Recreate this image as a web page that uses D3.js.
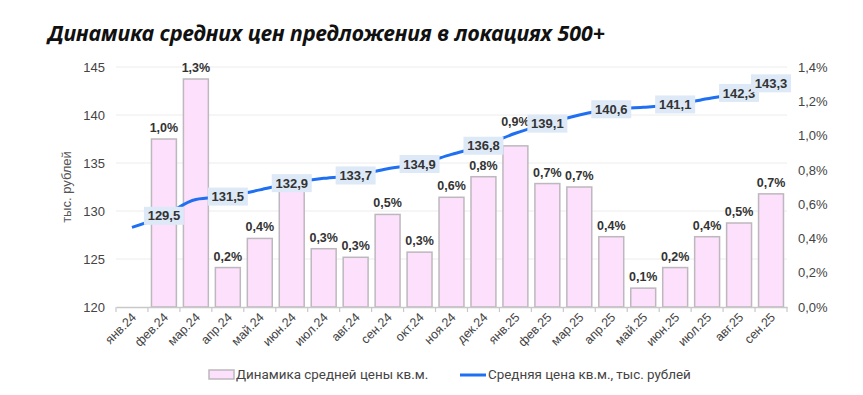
<!DOCTYPE html>
<html>
<head>
  <meta charset="utf-8" />
  <script src="https://cdn.jsdelivr.net/npm/d3@7"></script>
  <style>
    body { margin: 0; background: #fff; }
    svg { display: block; font-family: "Liberation Sans", Arial, sans-serif; }
    .grid line { stroke: #ececec; stroke-width: 1px; }
    .bar { fill: #fde0fb; stroke: #bdb8bd; stroke-width: 1.5px; }
    .line { fill: none; stroke: #1f6ff2; stroke-width: 3px; }
  </style>
</head>
<body>
<script>
  "use strict";

  var months = ["янв.24", "фев.24", "мар.24", "апр.24", "май.24", "июн.24", "июл.24",
    "авг.24", "сен.24", "окт.24", "ноя.24", "дек.24", "янв.25", "фев.25", "мар.25",
    "апр.25", "май.25", "июн.25", "июл.25", "авг.25", "сен.25"];

  // monthly change of the average price, %
  var change = [null, 0.98, 1.33, 0.23, 0.40, 0.70, 0.34, 0.29, 0.54, 0.32, 0.64,
    0.76, 0.94, 0.72, 0.70, 0.41, 0.11, 0.23, 0.41, 0.49, 0.66];

  // bar labels hidden behind the price labels in the original
  var changeHidden = ["июн.24"];

  // average price per sq.m., thousand rubles
  var price = [128.3, 129.5, 131.2, 131.5, 132.2, 132.9, 133.4, 133.7, 134.4, 134.9, 135.9,
    136.8, 138.1, 139.1, 140.0, 140.6, 140.8, 141.1, 141.7, 142.3, 143.3];

  // which price points carry a label
  var priceLabeled = ["фев.24", "апр.24", "июн.24", "авг.24", "окт.24", "дек.24",
    "фев.25", "апр.25", "июн.25", "авг.25", "сен.25"];

  var leftTicks = [120, 125, 130, 135, 140, 145];
  var rightTicks = [0, 0.2, 0.4, 0.6, 0.8, 1.0, 1.2, 1.4];

  var width = 863,
    height = 395,
    margin = { top: 67, right: 76, bottom: 88, left: 116 };

  var fmt1 = function(v) { return d3.format(".1f")(v).replace(".", ","); };

  var svg = d3.select("body").append("svg")
    .attr("width", width)
    .attr("height", height);

  svg.append("text")
    .attr("x", 48)
    .attr("y", 41)
    .attr("font-family", "'Noto Sans', sans-serif")
    .attr("font-size", 21)
    .attr("font-weight", "bold")
    .attr("font-style", "italic")
    .attr("fill", "#111")
    .attr("textLength", 557)
    .attr("lengthAdjust", "spacingAndGlyphs")
    .text("Динамика средних цен предложения в локациях 500+");

  var x = d3.scaleBand()
    .domain(months)
    .range([margin.left, width - margin.right])
    .paddingInner(0.22)
    .paddingOuter(0.11);

  var yL = d3.scaleLinear().domain([120, 145]).range([height - margin.bottom, margin.top]);
  var yR = d3.scaleLinear().domain([0, 1.4]).range([height - margin.bottom, margin.top]);

  // gridlines
  svg.append("g").attr("class", "grid")
    .selectAll("line")
    .data(leftTicks.slice(1))
    .join("line")
    .attr("x1", margin.left)
    .attr("x2", width - margin.right)
    .attr("y1", function(d) { return yL(d); })
    .attr("y2", function(d) { return yL(d); });

  // left axis
  var axL = svg.append("g")
    .attr("transform", "translate(" + (margin.left - 11) + ",0)")
    .call(d3.axisLeft(yL).tickValues(leftTicks).tickSize(0).tickPadding(0));
  axL.select(".domain").remove();
  axL.selectAll("text").attr("font-size", 13).attr("fill", "#444");

  // right axis
  var axR = svg.append("g")
    .attr("transform", "translate(" + (width - margin.right + 11) + ",0)")
    .call(d3.axisRight(yR).tickValues(rightTicks).tickSize(0).tickPadding(0)
      .tickFormat(function(d) { return fmt1(d) + "%"; }));
  axR.select(".domain").remove();
  axR.selectAll("text").attr("font-size", 13).attr("fill", "#444");

  svg.append("text")
    .attr("transform", "translate(71," + ((margin.top + height - margin.bottom) / 2) + ") rotate(-90)")
    .attr("text-anchor", "middle")
    .attr("font-size", 13)
    .attr("fill", "#555")
    .text("тыс. рублей");

  // bars
  var barData = months.map(function(m, i) { return { m: m, v: change[i], p: price[i] }; })
    .filter(function(d) { return d.v !== null; });

  svg.append("g").selectAll("rect")
    .data(barData)
    .join("rect")
    .attr("class", "bar")
    .attr("x", function(d) { return x(d.m); })
    .attr("width", x.bandwidth())
    .attr("y", function(d) { return yR(d.v); })
    .attr("height", function(d) { return yR(0) - yR(d.v); });

  // bar label sits above the bar, or above the line when the line crosses it
  function barLabelY(d) {
    var base = yR(d.v) - 7,
      ly = yL(d.p);
    if (ly > base - 12 && ly < base + 2) return ly - 7;
    return base;
  }

  svg.append("g").selectAll("text")
    .data(barData.filter(function(d) { return changeHidden.indexOf(d.m) < 0; }))
    .join("text")
    .attr("x", function(d) { return x(d.m) + x.bandwidth() / 2; })
    .attr("y", barLabelY)
    .attr("text-anchor", "middle")
    .attr("font-size", 12.5)
    .attr("font-weight", "bold")
    .attr("fill", "#333")
    .text(function(d) { return fmt1(Math.round(d.v * 10) / 10) + "%"; });

  // x axis
  var axX = svg.append("g")
    .attr("transform", "translate(0," + (height - margin.bottom) + ")")
    .call(d3.axisBottom(x).tickSize(0).tickPadding(0));
  axX.select(".domain").attr("stroke", "#c8c8c8").attr("stroke-width", 1.5);
  axX.selectAll(".tick line").remove();
  axX.selectAll(".tick text")
    .attr("font-size", 12.5)
    .attr("fill", "#444")
    .attr("text-anchor", "end")
    .attr("dy", 0)
    .attr("transform", "translate(5,11) rotate(-45)");

  // tick marks between categories
  var plotW = width - margin.left - margin.right;
  svg.append("g").selectAll("line")
    .data(d3.range(months.length + 1))
    .join("line")
    .attr("x1", function(i) { return margin.left + i * plotW / months.length; })
    .attr("x2", function(i) { return margin.left + i * plotW / months.length; })
    .attr("y1", height - margin.bottom)
    .attr("y2", height - margin.bottom + 5)
    .attr("stroke", "#c8c8c8")
    .attr("stroke-width", 1.2);

  // price line
  var cx = function(m) { return x(m) + x.bandwidth() / 2; };
  var lineData = months.map(function(m, i) { return { m: m, v: price[i] }; });

  svg.append("path")
    .datum(lineData)
    .attr("class", "line")
    .attr("d", d3.line()
      .x(function(d) { return cx(d.m); })
      .y(function(d) { return yL(d.v); })
      .curve(d3.curveMonotoneX));

  var lab = svg.append("g").selectAll("g")
    .data(lineData.filter(function(d) { return priceLabeled.indexOf(d.m) >= 0; }))
    .join("g")
    .attr("transform", function(d) { return "translate(" + cx(d.m) + "," + yL(d.v) + ")"; });

  lab.append("rect")
    .attr("x", -20)
    .attr("y", -9)
    .attr("width", 40)
    .attr("height", 18)
    .attr("fill", "#dde9f7");

  lab.append("text")
    .attr("text-anchor", "middle")
    .attr("dy", "0.36em")
    .attr("font-size", 13)
    .attr("font-weight", "bold")
    .attr("fill", "#333")
    .text(function(d) { return fmt1(d.v); });

  // legend
  var leg = svg.append("g").attr("font-family", "Roboto, sans-serif").attr("font-size", 13.4).attr("fill", "#444");
  leg.append("rect")
    .attr("class", "bar")
    .attr("x", 209).attr("y", 370).attr("width", 25).attr("height", 9)
    .attr("stroke-width", 1.2);
  leg.append("text").attr("x", 236).attr("y", 379).text("Динамика средней цены кв.м.");
  leg.append("line")
    .attr("x1", 460).attr("x2", 486).attr("y1", 375).attr("y2", 375)
    .attr("stroke", "#1f6ff2").attr("stroke-width", 3);
  leg.append("text").attr("x", 488).attr("y", 379).text("Средняя цена кв.м., тыс. рублей");
</script>
</body>
</html>
